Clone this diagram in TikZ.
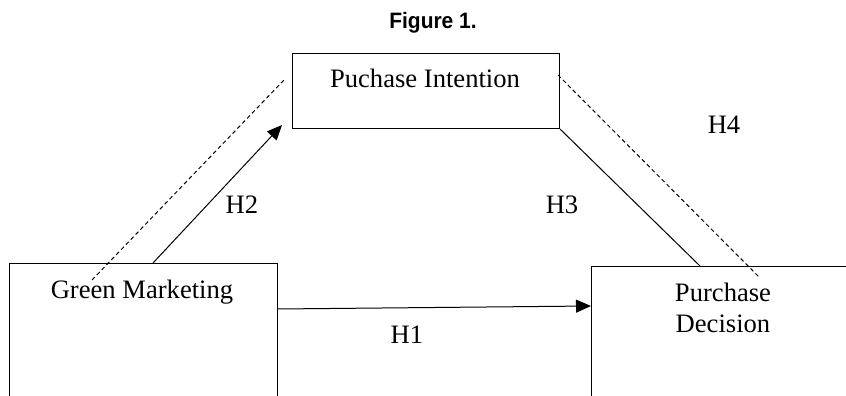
\documentclass[tikz,border=0pt]{standalone}
\usepackage{fontspec}
\setmainfont{Liberation Serif}
\newfontfamily\titlefont[FakeStretch=0.94]{Liberation Sans}
\usetikzlibrary{arrows.meta}
\tikzset{
  box/.style={draw, line width=1pt, inner sep=0pt, anchor=north west},
  txt/.style={font=\fontsize{26.6}{31}\selectfont, inner sep=0pt, anchor=base, align=center},
  hyp/.style={line width=1pt},
  hypdash/.style={line width=1pt, dash pattern=on 4pt off 3pt},
  tip/.style={-{Triangle[length=15pt,width=13pt]}}
}
\begin{document}
\begin{tikzpicture}[x=1pt,y=-1pt]
  \useasboundingbox (0,0) rectangle (846,396);
  \clip (0,0) rectangle (846,396);
  \node[txt, font=\titlefont\bfseries\fontsize{22.3}{26}\selectfont] (title) at (433,28.5) {Figure 1.};
  \node[box, minimum width=267pt, minimum height=75pt] (pi) at (292,53) {};
  \node[box, minimum width=268pt, minimum height=170pt] (gm) at (9,263) {};
  \node[box, minimum width=300pt, minimum height=170pt] (pd) at (591,266) {};
  \node[txt] (pitext) at (425,88) {Puchase Intention};
  \node[txt] (gmtext) at (142,298) {Green Marketing};
  \node[txt] (pdtext) at (723,332) {Purchase\\Decision};
  \node[txt] (h1) at (407,343) {H1};
  \node[txt] (h2) at (242,213) {H2};
  \node[txt] (h3) at (562,213) {H3};
  \node[txt] (h4) at (724,133) {H4};
  \coordinate (h1from) at (277,309);
  \coordinate (h1to) at (591,306);
  \coordinate (h2from) at (153,263);
  \coordinate (h2to) at (282,125);
  \coordinate (h3to) at (700,266);
  \coordinate (d2from) at (92,280);
  \coordinate (d2to) at (284,80);
  \coordinate (h4from) at (558,75);
  \coordinate (h4to) at (760,278);
  \begin{scope}[hyp]
    \draw[tip] (h1from) -- (h1to);
    \draw[tip] (h2from) -- (h2to);
    \draw (pi.south east) -- (h3to);
  \end{scope}
  \begin{scope}[hypdash]
    \draw (d2from) -- (d2to);
    \draw (h4from) -- (h4to);
  \end{scope}
\end{tikzpicture}
\end{document}
